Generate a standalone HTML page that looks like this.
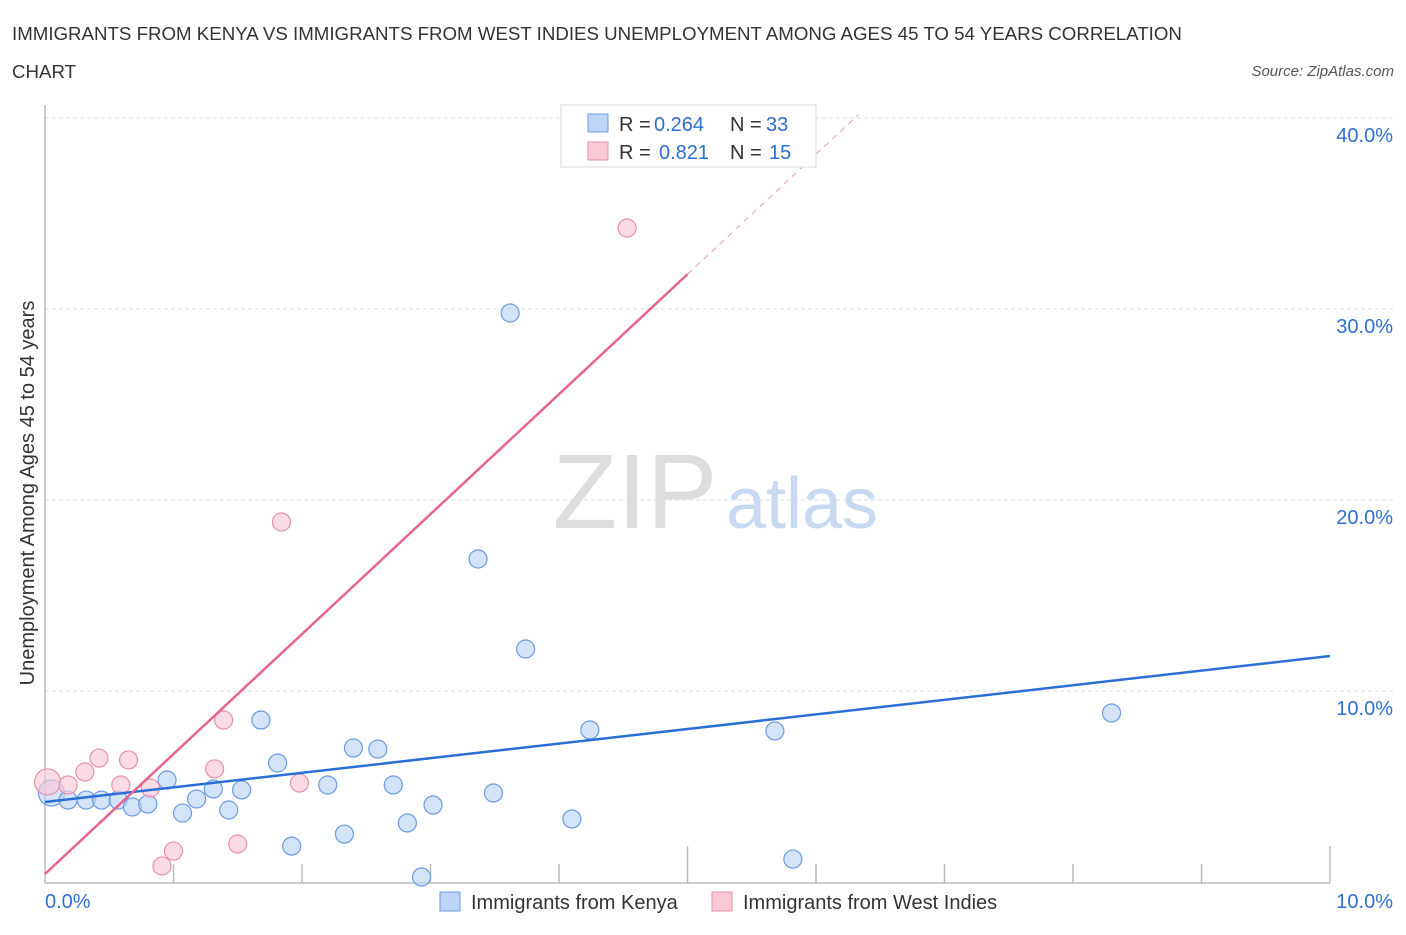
<!DOCTYPE html>
<html><head><meta charset="utf-8"><style>
body{margin:0;background:#fff;font-family:"Liberation Sans",sans-serif;}
svg text{font-family:"Liberation Sans",sans-serif;}
</style></head><body>
<svg id="c" width="1406" height="930">
<text x="12" y="40" font-size="18.7" fill="#333">IMMIGRANTS FROM KENYA VS IMMIGRANTS FROM WEST INDIES UNEMPLOYMENT AMONG AGES 45 TO 54 YEARS CORRELATION</text>
<text x="12" y="78" font-size="18.7" fill="#333">CHART</text>
<text x="1394" y="76" font-size="15" fill="#555" font-style="italic" text-anchor="end">Source: ZipAtlas.com</text>
<text x="635" y="528" font-size="106" fill="#ddd" font-family="Liberation Serif" text-anchor="middle">ZIP</text>
<text x="802" y="528" font-size="72" fill="#c8d9f2" text-anchor="middle">atlas</text>
<text transform="translate(34,493) rotate(-90)" font-size="20" fill="#333" text-anchor="middle">Unemployment Among Ages 45 to 54 years</text>
<g id="grid"></g><g id="marks"></g>
<g>
<rect x="561" y="105" width="255" height="62" fill="#fff" stroke="#ddd"/>
<rect x="588" y="114" width="20" height="18" fill="#bcd4f6" stroke="#6b9be0"/>
<rect x="588" y="142" width="20" height="18" fill="#f9c9d6" stroke="#e891ab"/>
<text x="619" y="131" font-size="20" fill="#333">R =</text>
<text x="654" y="131" font-size="20" fill="#2f6fd0">0.264</text>
<text x="730" y="131" font-size="20" fill="#333">N =</text>
<text x="766" y="131" font-size="20" fill="#2f6fd0">33</text>
<text x="619" y="159" font-size="20" fill="#333">R =</text>
<text x="659" y="159" font-size="20" fill="#2f6fd0">0.821</text>
<text x="730" y="159" font-size="20" fill="#333">N =</text>
<text x="769" y="159" font-size="20" fill="#2f6fd0">15</text>
</g>
<g>
<rect x="440" y="892" width="20" height="19" fill="#bcd4f6" stroke="#6b9be0"/>
<text x="471" y="909" font-size="20" fill="#333">Immigrants from Kenya</text>
<rect x="712" y="892" width="20" height="19" fill="#f9c9d6" stroke="#e891ab"/>
<text x="743" y="909" font-size="20" fill="#333">Immigrants from West Indies</text>
</g>
</svg>
<script>
const yTicks=[10,20,30,40];
const yTickLabels=["10.0%","20.0%","30.0%","40.0%"];
const xTickLabels=["0.0%","10.0%"];
const kenyaX=[0.05,0.18,0.32,0.44,0.57,0.68,0.80,0.95,1.07,1.18,1.31,1.43,1.53,1.68,1.81,1.92,2.20,2.33,2.40,2.59,2.71,2.82,2.93,3.02,3.37,3.49,3.62,3.74,4.10,4.24,5.68,5.82,8.30];
const kenyaY=[4.66,4.29,4.29,4.29,4.29,3.93,4.08,5.34,3.61,4.35,4.87,3.77,4.82,8.48,6.23,1.88,5.08,2.51,7.02,6.96,5.08,3.09,0.26,4.03,16.91,4.66,29.79,12.20,3.30,7.96,7.91,1.20,8.85];
const wiX=[0.02,0.18,0.31,0.42,0.59,0.65,0.82,0.91,1.00,1.32,1.39,1.50,1.84,1.98,4.53];
const wiY=[5.24,5.08,5.76,6.49,5.08,6.39,4.92,0.84,1.62,5.92,8.48,1.99,18.85,5.18,34.24];
const kenyaLine=[4.19,11.83];
const wiIntercept=0.42, wiSlope=6.28, wiSolidEnd=5.0, wiDashEnd=6.33;
const NS="http://www.w3.org/2000/svg";
const X=v=>45+v*128.5, Y=v=>882-v*19.1;
function mk(t,a,p){const e=document.createElementNS(NS,t);for(const k in a)e.setAttribute(k,a[k]);p.appendChild(e);return e;}
const g=document.getElementById('grid'), m=document.getElementById('marks');
yTicks.forEach((t,i)=>{
 const l=mk('line',{x1:45,x2:1394,y1:Y(t),y2:Y(t),stroke:'#ddd','stroke-dasharray':'4 3'},g);
 
 
 const tx=mk('text',{x:1393,y:Y(t)+24,'font-size':20,fill:'#2f6fd0','text-anchor':'end'},g);tx.textContent=yTickLabels[i];
 
 
});
const ax=mk('line',{x1:45,x2:45,y1:105,y2:883,stroke:'#bbb','stroke-width':1.5},g);


const bx=mk('line',{x1:45,x2:1330,y1:883,y2:883,stroke:'#bbb','stroke-width':1.5},g);


for(let i=1;i<=10;i++){const t=mk('line',{x1:X(i),x2:X(i),y1:883,y2:i==5||i==10?846:864,stroke:'#bbb','stroke-width':1.5},g);
 
 }
[[0,'start',45],[10,'end',1393]].forEach((d,i)=>{const t=mk('text',{x:d[2],y:908,'font-size':20,fill:'#2f6fd0','text-anchor':d[1]},g);t.textContent=xTickLabels[i];
 
 });
kenyaX.forEach((x,i)=>{const c=mk('circle',{cx:X(x),cy:Y(kenyaY[i]),r:i==0?13:9,fill:'#bcd4f6','fill-opacity':0.65,stroke:'#6b9be0','stroke-width':1.2},m);
 
 });
wiX.forEach((x,i)=>{const c=mk('circle',{cx:X(x),cy:Y(wiY[i]),r:i==0?13:9,fill:'#f9c9d6','fill-opacity':0.65,stroke:'#e891ab','stroke-width':1.2},m);
 
 });
const bl=mk('line',{x1:X(0),y1:Y(kenyaLine[0]),x2:X(10),y2:Y(kenyaLine[1]),stroke:'#2a6fd6','stroke-width':2.5},m);


const pl=mk('line',{x1:X(0),y1:Y(wiIntercept),x2:X(wiSolidEnd),y2:Y(wiIntercept+wiSlope*wiSolidEnd),stroke:'#e8648e','stroke-width':2.5},m);


const pd=mk('line',{x1:X(wiSolidEnd),y1:Y(wiIntercept+wiSlope*wiSolidEnd),x2:X(wiDashEnd),y2:Y(wiIntercept+wiSlope*wiDashEnd),stroke:'#e8a0b5','stroke-width':1,'stroke-dasharray':'6 5'},m);


</script>
</body></html>
